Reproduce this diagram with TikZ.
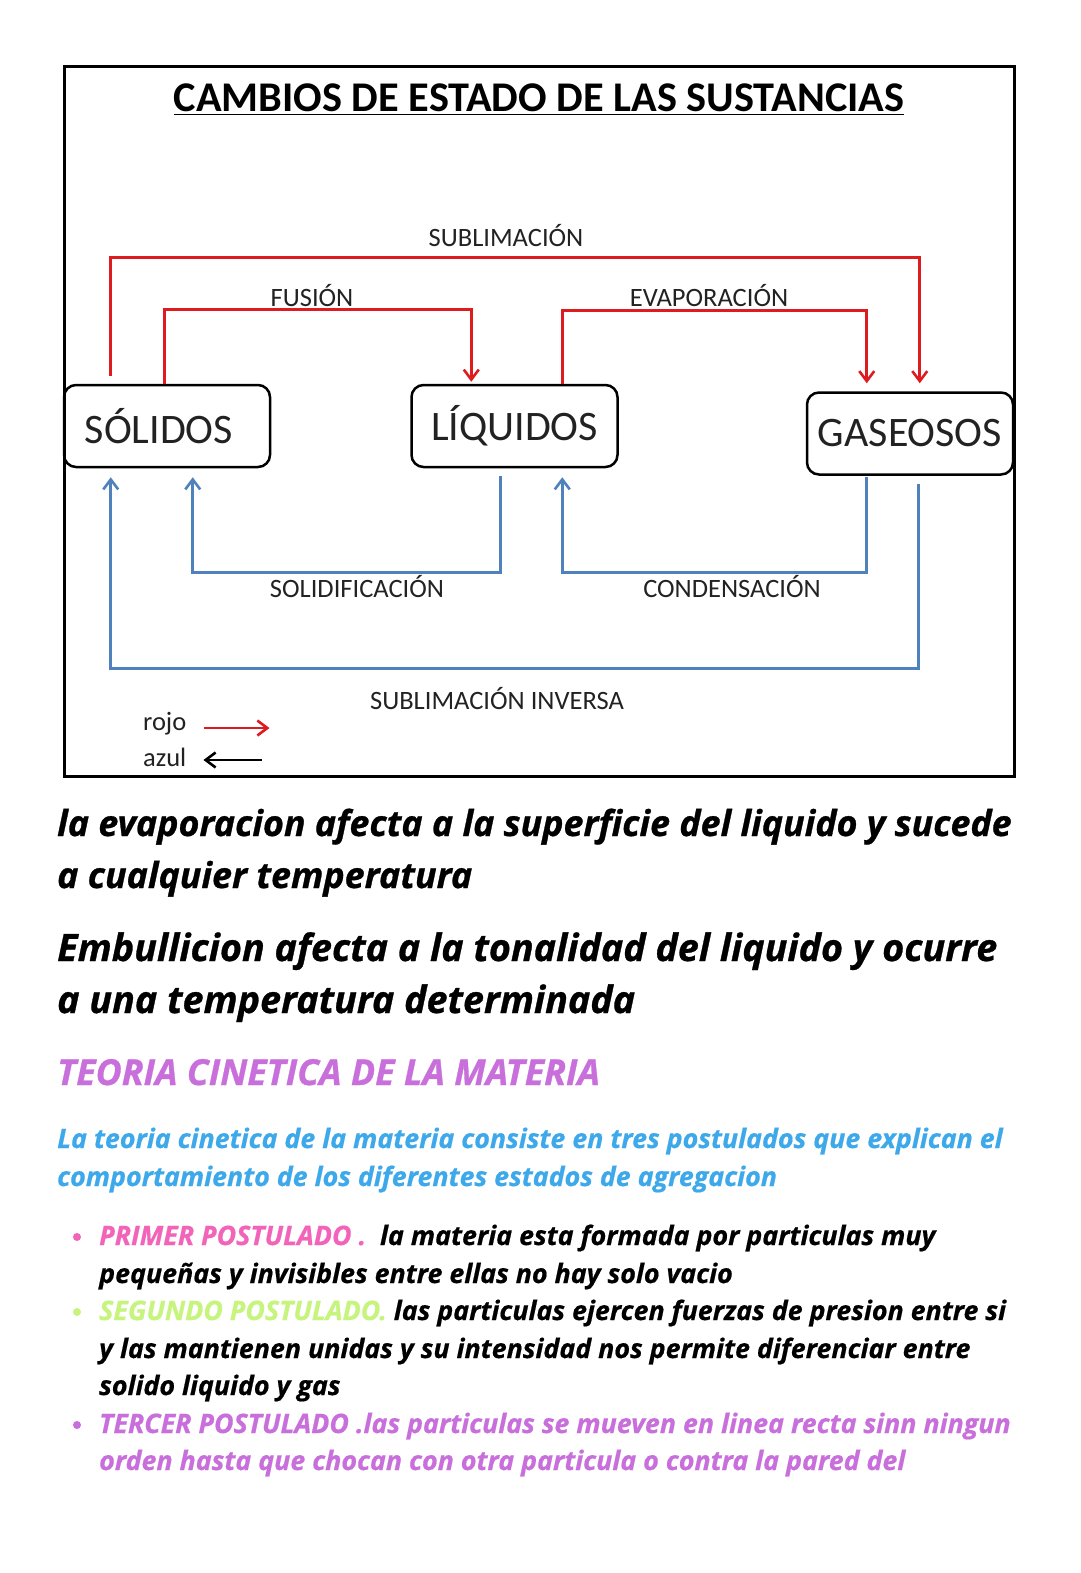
\documentclass[tikz,border=0pt]{standalone}
\usepackage{fontspec}
\setmainfont{Carlito}
\newfontfamily\notefont[FakeBold=0.8]{Open Sans}
\newfontfamily\bulletfont[FakeBold=0.6]{Open Sans}
\usetikzlibrary{arrows.meta,calc}
\definecolor{redarrow}{RGB}{222,28,32}
\definecolor{bluearrow}{RGB}{79,129,189}
\definecolor{labelgray}{RGB}{34,34,34}
\definecolor{pinkpost}{RGB}{242,100,185}
\definecolor{greenpost}{RGB}{198,244,124}
\definecolor{purplepost}{RGB}{200,111,220}
\definecolor{bluetext}{RGB}{61,169,234}
\tikzset{
  statebox/.style={draw=black, line width=2.5pt, rounded corners=12pt, minimum width=206pt, minimum height=82pt, inner sep=0pt, font=\fontsize{42}{48}\selectfont, text=labelgray},
  redl/.style={draw=redarrow, line width=2.6pt, -{Straight Barb[length=10pt,width=15pt,line width=2.6pt]}},
  bluel/.style={draw=bluearrow, line width=2.6pt, -{Straight Barb[length=10pt,width=15pt,line width=2.6pt]}},
  proclabel/.style={font=\fontsize{26.5}{31}\selectfont, text=labelgray, inner sep=0pt},
  bigline/.style={anchor=base west, inner sep=0pt, font=\notefont\bfseries\itshape\fontsize{35.8}{42}\selectfont},
  biggerline/.style={anchor=base west, inner sep=0pt, font=\notefont\bfseries\itshape\fontsize{37.7}{44}\selectfont},
  smallline/.style={anchor=base west, inner sep=0pt, font=\bulletfont\bfseries\itshape\fontsize{26.8}{31}\selectfont},
  dotmark/.style={circle, inner sep=0pt, minimum size=8pt}
}
\begin{document}
\begin{tikzpicture}[x=1pt,y=-1pt]
\useasboundingbox (0,0) rectangle (1080,1573);
\fill[white] (0,0) rectangle (1080,1573);
% frame
\draw[line width=3pt] (64,67) rectangle (1014,776);
\node[font=\bfseries\fontsize{42.3}{48}\selectfont, inner sep=0pt, anchor=base] (title) at (539,112) {\underline{CAMBIOS DE ESTADO DE LAS SUSTANCIAS}};
% boxes
\node[statebox] (sol) at (167,426) {SÓLIDOS\kern16pt};
\node[statebox] (liq) at (514.5,426) {LÍQUIDOS};
\node[statebox] (gas) at (910,433.5) {GASEOSOS};
% red arrows
\draw[redl] ([xshift=48pt,yshift=8pt]sol.north west) |- ([xshift=114pt,yshift=134pt]gas.north west) -- ([xshift=114pt,yshift=8pt]gas.north west);
\draw[redl] ([xshift=102pt]sol.north west) |- ([xshift=61pt,yshift=74pt]liq.north west) -- ([xshift=61pt,yshift=2pt]liq.north west);
\draw[redl] ([xshift=152pt]liq.north west) |- ([xshift=61pt,yshift=81pt]gas.north west) -- ([xshift=61pt,yshift=8pt]gas.north west);
% blue arrows
\draw[bluel] ([xshift=90pt,yshift=-8pt]liq.south west) |- ([xshift=130pt,yshift=-104pt]sol.south west) -- ([xshift=130pt,yshift=-9pt]sol.south west);
\draw[bluel] ([xshift=61pt,yshift=-1pt]gas.south west) |- ([xshift=152pt,yshift=-104pt]liq.south west) -- ([xshift=152pt,yshift=-9pt]liq.south west);
\draw[bluel] ([xshift=113pt,yshift=-8pt]gas.south west) |- ([xshift=48pt,yshift=-200pt]sol.south west) -- ([xshift=48pt,yshift=-9pt]sol.south west);
% labels
\node[proclabel] (lsub) at (506,236) {SUBLIMACIÓN};
\node[proclabel] (lfus) at (312,296) {FUSIÓN};
\node[proclabel] (leva) at (709,296) {EVAPORACIÓN};
\node[proclabel] (lsol) at (357,587) {SOLIDIFICACIÓN};
\node[proclabel] (lcon) at (732,587) {CONDENSACIÓN};
\node[proclabel] (linv) at (497,699) {SUBLIMACIÓN INVERSA};
% legend
\node[proclabel, anchor=west] (rojo) at (143,724) {rojo};
\node[proclabel, anchor=west] (azul) at (143,757) {azul};
\draw[redl] ([xshift=17pt,yshift=-4pt]rojo.east) -- ++(66,0);
\draw[draw=black, line width=2.6pt, {Straight Barb[length=10pt,width=15pt,line width=2.6pt]}-] ([xshift=17pt,yshift=-3pt]azul.east) -- ++(59,0);
% notes
\node[bigline] (p1a) at (57,836) {la evaporacion afecta a la superficie del liquido y sucede};
\node[bigline] (p1b) at (57,888) {a cualquier temperatura};
\node[biggerline] (p2a) at (57,961) {Embullicion afecta a la tonalidad del liquido y ocurre};
\node[biggerline] (p2b) at (57,1013) {a una temperatura determinada};
\node[bigline, text=purplepost] (teo) at (57,1085) {TEORIA CINETICA DE LA MATERIA};
\node[smallline, text=bluetext] (b1) at (57,1148) {La teoria cinetica de la materia consiste en tres postulados que explican el};
\node[smallline, text=bluetext] (b2) at (57,1186) {comportamiento de los diferentes estados de agregacion};
% bullets
\node[dotmark, fill=pinkpost] (d1) at (77,1237) {};
\node[dotmark, fill=greenpost] (d2) at (77,1312) {};
\node[dotmark, fill=purplepost] (d3) at (77,1425) {};
\node[smallline] (q1) at (99,1245) {\textcolor{pinkpost}{PRIMER POSTULADO .}\ \ la materia esta formada por particulas muy};
\node[smallline] (q2) at (99,1283) {pequeñas y invisibles entre ellas no hay solo vacio};
\node[smallline] (q3) at (99,1320) {\textcolor{greenpost}{SEGUNDO POSTULADO.} las particulas ejercen fuerzas de presion entre si};
\node[smallline] (q4) at (99,1358) {y las mantienen unidas y su intensidad nos permite diferenciar entre};
\node[smallline] (q5) at (99,1395) {solido liquido y gas};
\node[smallline, text=purplepost] (q6) at (99,1433) {TERCER POSTULADO .las particulas se mueven en linea recta sinn ningun};
\node[smallline, text=purplepost] (q7) at (99,1470) {orden hasta que chocan con otra particula o contra la pared del};
\end{tikzpicture}
\end{document}
